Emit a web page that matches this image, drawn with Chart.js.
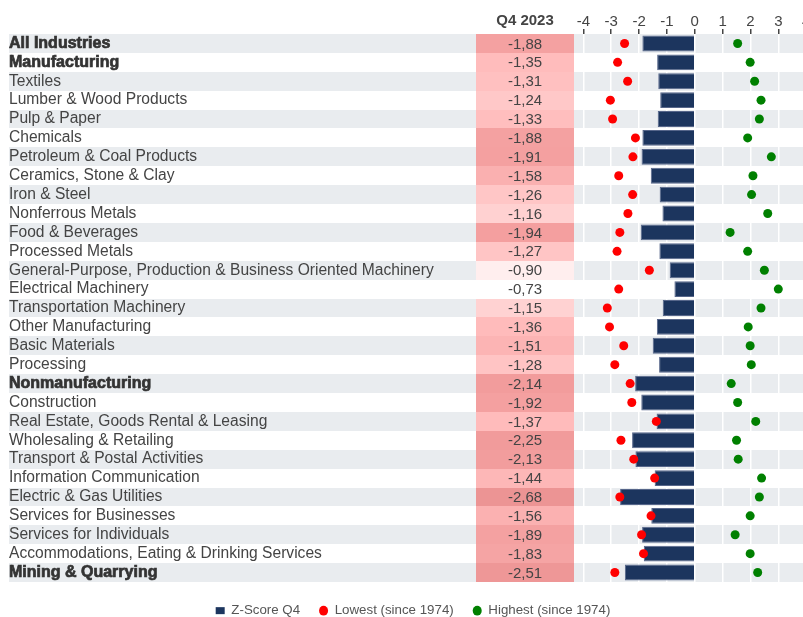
<!DOCTYPE html>
<html>
<head>
<meta charset="utf-8">
<script src="https://cdn.jsdelivr.net/npm/chart.js@4"></script>
<style>
  html, body { margin: 0; padding: 0; background: #fff; overflow: hidden; }
  #wrap { width: 819px; height: 617px; }
</style>
</head>
<body>
<div id="wrap"><canvas id="myChart"></canvas></div>
<script>
let industries = [
  "All Industries", "Manufacturing", "Textiles", "Lumber & Wood Products", "Pulp & Paper",
  "Chemicals", "Petroleum & Coal Products", "Ceramics, Stone & Clay", "Iron & Steel",
  "Nonferrous Metals", "Food & Beverages", "Processed Metals",
  "General-Purpose, Production & Business Oriented Machinery", "Electrical Machinery",
  "Transportation Machinery", "Other Manufacturing", "Basic Materials", "Processing",
  "Nonmanufacturing", "Construction", "Real Estate, Goods Rental & Leasing",
  "Wholesaling & Retailing", "Transport & Postal Activities", "Information Communication",
  "Electric & Gas Utilities", "Services for Businesses", "Services for Individuals",
  "Accommodations, Eating & Drinking Services", "Mining & Quarrying"
];
let boldRows = ["All Industries", "Manufacturing", "Nonmanufacturing", "Mining & Quarrying"];

let zScore = [-1.88, -1.35, -1.31, -1.24, -1.33, -1.88, -1.91, -1.58, -1.26, -1.16, -1.94, -1.27,
  -0.90, -0.73, -1.15, -1.36, -1.51, -1.28, -2.14, -1.92, -1.37, -2.25, -2.13, -1.44,
  -2.68, -1.56, -1.89, -1.83, -2.51];
let lowest = [-2.52, -2.77, -2.41, -3.03, -2.95, -2.13, -2.22, -2.73, -2.23, -2.40, -2.69, -2.79,
  -1.63, -2.73, -3.14, -3.06, -2.55, -2.87, -2.32, -2.26, -1.38, -2.65, -2.19, -1.44,
  -2.69, -1.57, -1.91, -1.84, -2.87];
let highest = [1.54, 1.99, 2.15, 2.38, 2.32, 1.90, 2.75, 2.09, 2.04, 2.62, 1.27, 1.90,
  2.50, 3.00, 2.38, 1.92, 1.99, 2.03, 1.31, 1.54, 2.19, 1.50, 1.56, 2.40,
  2.32, 1.99, 1.45, 1.99, 2.26];
let xTicks = [-4, -3, -2, -1, 0, 1, 2, 3, 4];

let fontFamily = "'Liberation Sans', Arial, sans-serif";

// white -> pink -> deeper pink for the value column
let colorStops = [[-0.75, 255, 255, 255], [-1.35, 255, 188, 188], [-1.9, 244, 160, 160], [-2.7, 236, 148, 148]];
function cellColor(v) {
  if (v >= colorStops[0][0]) return "#ffffff";
  for (let i = 1; i < colorStops.length; i++) {
    let a = colorStops[i - 1], b = colorStops[i];
    if (v >= b[0] || i === colorStops.length - 1) {
      let t = Math.min(1, (a[0] - v) / (a[0] - b[0]));
      let c = [1, 2, 3].map((k) => Math.round(a[k] + (b[k] - a[k]) * t));
      return `rgb(${c[0]},${c[1]},${c[2]})`;
    }
  }
}

let tablePlugin = {
  id: "table",
  afterInit(chart) {
    // fixed legend height so the rows keep their size
    let fit = chart.legend.fit;
    chart.legend.fit = function () {
      fit.call(this);
      this.height = 35;
    };
  },
  afterLayout(chart) {
    chart.legend.top += 3;
    chart.legend.bottom += 3;
  },
  beforeDraw(chart) {
    let ctx = chart.ctx;
    let yScale = chart.scales.y;
    let area = chart.chartArea;
    let rowH = (area.bottom - area.top) / industries.length;
    ctx.save();
    for (let i = 0; i < industries.length; i++) {
      let top = Math.round(area.top + i * rowH);
      let bot = Math.round(area.top + (i + 1) * rowH);
      if (i % 2 === 0) {
        ctx.fillStyle = "#e9ecef";
        ctx.fillRect(9, top, chart.width - 9, bot - top);
      }
      ctx.fillStyle = cellColor(zScore[i]);
      ctx.fillRect(area.left - 99, top, 98, bot - top);
      ctx.fillStyle = "#444";
      ctx.font = "15px " + fontFamily;
      ctx.textAlign = "center";
      ctx.textBaseline = "middle";
      ctx.fillText(zScore[i].toFixed(2).replace(".", ","), area.left - 50, yScale.getPixelForValue(i) + 1);
    }
    ctx.fillStyle = "#444";
    ctx.font = "bold 15px " + fontFamily;
    ctx.textAlign = "center";
    ctx.textBaseline = "middle";
    ctx.fillText("Q4 2023", area.left - 50, 21);
    ctx.restore();
  }
};

let mychart = document.getElementById("myChart").getContext("2d");
let barChart = new Chart(mychart, {
  type: "bar",
  data: {
    labels: industries,
    datasets: [
      {
        label: "Z-Score Q4",
        data: zScore,
        indexAxis: "y",
        backgroundColor: "#1c355e",
        borderColor: "#56668a",
        borderWidth: 1,
        categoryPercentage: 1,
        barPercentage: 0.84,
        order: 2,
      },
      {
        type: "line",
        label: "Lowest (since 1974)",
        data: lowest,
        indexAxis: "y",
        showLine: false,
        pointRadius: 4.5,
        pointHoverRadius: 4.5,
        pointBorderWidth: 0,
        backgroundColor: "#ff0000",
        borderColor: "#ff0000",
        order: 1,
      },
      {
        type: "line",
        label: "Highest (since 1974)",
        data: highest,
        indexAxis: "y",
        showLine: false,
        pointRadius: 4.5,
        pointHoverRadius: 4.5,
        pointBorderWidth: 0,
        backgroundColor: "#008000",
        borderColor: "#008000",
        order: 1,
      },
    ],
  },
  options: {
    indexAxis: "y",
    responsive: true,
    maintainAspectRatio: false,
    animation: false,
    layout: { padding: { left: 9, right: 2, top: 0, bottom: 0 } },
    scales: {
      x: {
        position: "top",
        min: -4.3,
        max: 4.3,
        afterBuildTicks: (s) => {
          s.ticks = xTicks.map((v) => ({ value: v }));
        },
        afterFit: (s) => { s.height = 34; },
        ticks: { color: "#444", font: { size: 15, family: fontFamily }, padding: -2 },
        grid: { color: "#ffffff", lineWidth: 1.5, tickColor: "#444", tickLength: 5 },
        border: { display: false },
      },
      y: {
        type: "category",
        afterFit: (s) => { s.width = 566; },
        ticks: {
          autoSkip: false,
          crossAlign: "far",
          color: (c) => (boldRows.includes(industries[c.index]) ? "#333" : "#444"),
          textStrokeColor: "#333",
          textStrokeWidth: (c) => (boldRows.includes(industries[c.index]) ? 0.7 : 0),
          font: (c) => (boldRows.includes(industries[c.index])
            ? { size: 16, family: fontFamily, weight: "bold" }
            : { size: 15.6, family: fontFamily, weight: "normal" }),
        },
        grid: { display: false },
        border: { display: false },
      },
    },
    plugins: {
      tooltip: { enabled: false },
      legend: {
        position: "bottom",
        labels: {
          usePointStyle: true,
          pointStyleWidth: 9,
          boxWidth: 9,
          boxHeight: 7,
          padding: 19,
          color: "#555",
          font: { size: 13.3, family: fontFamily },
          sort: (a, b) => a.datasetIndex - b.datasetIndex,
          generateLabels: (chart) =>
            Chart.defaults.plugins.legend.labels.generateLabels(chart).map((l) => ({
              ...l,
              pointStyle: l.datasetIndex === 0 ? "rect" : "circle",
              lineWidth: 0,
            })),
        },
      },
    },
  },
  plugins: [tablePlugin],
});
</script>
</body>
</html>
